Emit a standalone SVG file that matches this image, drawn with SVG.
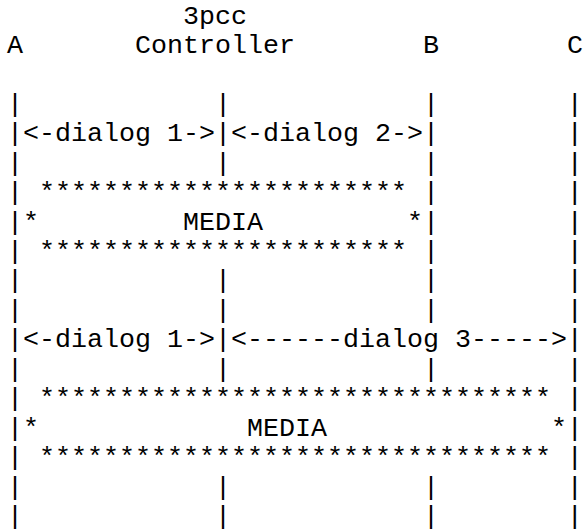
<svg xmlns="http://www.w3.org/2000/svg" width="587" height="530" viewBox="0 0 587 530">
<style>
  .t { font-family: "Liberation Mono", "Courier New", monospace; font-size: 26.67px; fill: #000; white-space: pre; }
</style>
<rect width="587" height="530" fill="#fff"/>
<g id="node-A"><text class="t" x="7" y="52.9">A</text></g>
<g id="node-controller">
  <text class="t" x="183" y="23.5">3pcc</text>
  <text class="t" x="135" y="52.9">Controller</text>
</g>
<g id="node-B"><text class="t" x="423" y="52.9">B</text></g>
<g id="node-C"><text class="t" x="567" y="52.9">C</text></g>
<g id="art" xml:space="preserve">
  <text class="t" x="7" y="111.8">|            |            |        |</text>
  <text class="t" x="7" y="141.3">|&lt;-dialog 1-&gt;|&lt;-dialog 2-&gt;|        |</text>
  <text class="t" x="7" y="170.7">|            |            |        |</text>
  <text class="t" x="7" y="200.1">| *********************** |        |</text>
  <text class="t" x="7" y="229.6">|*         MEDIA         *|        |</text>
  <text class="t" x="7" y="259.0">| *********************** |        |</text>
  <text class="t" x="7" y="288.4">|            |            |        |</text>
  <text class="t" x="7" y="317.9">|            |            |        |</text>
  <text class="t" x="7" y="347.3">|&lt;-dialog 1-&gt;|&lt;------dialog 3-----&gt;|</text>
  <text class="t" x="7" y="376.8">|            |            |        |</text>
  <text class="t" x="7" y="406.2">| ******************************** |</text>
  <text class="t" x="7" y="435.6">|*             MEDIA              *|</text>
  <text class="t" x="7" y="465.1">| ******************************** |</text>
  <text class="t" x="7" y="494.5">|            |            |        |</text>
  <text class="t" x="7" y="523.9">|            |            |        |</text>
</g>
</svg>
